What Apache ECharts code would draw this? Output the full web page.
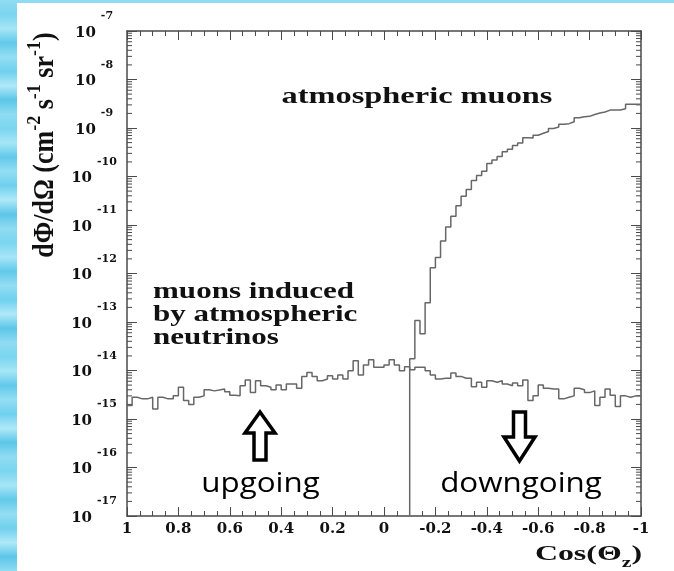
<!DOCTYPE html>
<html>
<head>
<meta charset="utf-8">
<script src="https://cdn.jsdelivr.net/npm/echarts@6/dist/echarts.min.js"></script>
<style>
html,body{margin:0;padding:0;background:#fff;}
#chart{width:674px;height:571px;}
</style>
</head>
<body>
<div id="chart"></div>
<script>
// ---- data ----
// bin layout: 100 bins of width 0.02 in cos(theta_z), from 1 down to -1
const binStart = 1;
const binWidth = 0.02;
const xTickLabels = ['1','0.8','0.6','0.4','0.2','0','-0.2','-0.4','-0.6','-0.8','-1'];
const yDecades = [-17,-16,-15,-14,-13,-12,-11,-10,-9,-8,-7];

// muons induced by atmospheric neutrinos, 100 bins from cos=1 to cos=-1
const neutrinoFlux = [
  1.9e-15, 2.8e-15, 2.6e-15, 2.6e-15, 2.8e-15, 1.6e-15, 2.8e-15, 2.6e-15, 2.6e-15, 3.0e-15,
  4.5e-15, 2.4e-15, 2.0e-15, 2.8e-15, 3.0e-15, 4.0e-15, 3.8e-15, 3.95e-15, 4.15e-15, 3.65e-15,
  3.1e-15, 3.0e-15, 4.85e-15, 6.4e-15, 3.5e-15, 6.15e-15, 4.85e-15, 4.5e-15, 4.0e-15, 5.0e-15,
  4.0e-15, 5.25e-15, 5.25e-15, 4.3e-15, 7.55e-15, 9.1e-15, 7.55e-15, 6.15e-15, 6.7e-15, 7.8e-15,
  6.7e-15, 8.1e-15, 6.7e-15, 9.9e-15, 1.59e-14, 8.1e-15, 1.3e-14, 1.67e-14, 1.16e-14, 1.16e-14,
  1.3e-14, 1.67e-14, 1.3e-14, 9.9e-15, 1.2e-14, 1.04e-14, 1.16e-14, 1.16e-14, 9.9e-15, 8.1e-15,
  6.7e-15, 6.9e-15, 6.9e-15, 8.9e-15, 7.55e-15, 6.9e-15, 6.9e-15, 4.6e-15, 5.7e-15, 4.5e-15,
  6.15e-15, 5.7e-15, 6.15e-15, 5.25e-15, 4.85e-15, 5.5e-15, 4.85e-15, 6.4e-15, 2.4e-15, 3.0e-15,
  5.0e-15, 4.3e-15, 4.15e-15, 4.15e-15, 2.6e-15, 2.8e-15, 3.0e-15, 4.3e-15, 4.0e-15, 3.5e-15,
  3.8e-15, 1.9e-15, 2.8e-15, 4.15e-15, 3.1e-15, 1.8e-15, 3.0e-15, 2.8e-15, 3.0e-15, 3.0e-15
];

// atmospheric muons, 45 bins from cos=-0.1 to cos=-1 (empty above the horizon)
const muonStartCos = -0.1;
const muonFlux = [
  1.74e-14, 1.07e-13, 5.75e-14, 2.5e-13, 1.32e-12, 2.14e-12, 4.68e-12, 9.1e-12, 1.51e-11, 2.5e-11,
  3.9e-11, 5.4e-11, 8.3e-11, 1.05e-10, 1.29e-10, 1.86e-10, 2.19e-10, 2.57e-10, 3.24e-10, 3.63e-10,
  4.37e-10, 4.9e-10, 6.3e-10, 6.2e-10, 7.1e-10, 7.8e-10, 8.5e-10, 9.8e-10, 1.05e-9, 1.2e-9,
  1.23e-9, 1.35e-9, 1.62e-9, 1.7e-9, 1.74e-9, 1.9e-9, 2.04e-9, 2.14e-9, 2.34e-9, 2.34e-9,
  2.34e-9, 2.5e-9, 3.1e-9, 3.1e-9, 3.1e-9
];

// ---- build series data ----
const yMin = Math.pow(10, yDecades[0]);
const yMax = Math.pow(10, yDecades[yDecades.length - 1]);

function histPoints(values, start) {
  const pts = values.map((v, i) => [+(start - binWidth * i).toFixed(4), v]);
  pts.push([+(start - binWidth * values.length).toFixed(4), values[values.length - 1]]);
  return pts;
}
const neutrinoData = histPoints(neutrinoFlux, binStart);
const muonData = [[muonStartCos, yMin]].concat(histPoints(muonFlux, muonStartCos));

const minorTickVals = [];
for (let d = 0; d < yDecades.length - 1; d++) {
  for (let k = 2; k <= 9; k++) minorTickVals.push([binStart, k * Math.pow(10, yDecades[d])]);
}

const AX = '#4a4a4a';
const LINE = '#676767';
const TXT = '#111';
const SERIF = '"Liberation Serif", "Times New Roman", serif';
const TICKFONT = '"DejaVu Serif", serif';

function xFmt(v) {
  const r = Math.round(v * 10) / 10;
  const idx = Math.round((1 - r) / 0.2);
  return xTickLabels[idx] !== undefined ? xTickLabels[idx] : String(r);
}

const xBase = {
  type: 'value', min: -1, max: 1, inverse: true, interval: 0.2,
  axisLine: {show: true, onZero: false, lineStyle: {color: AX, width: 1.5}},
  axisTick: {show: true, inside: true, length: 9, lineStyle: {color: AX, width: 1}},
  minorTick: {show: true, splitNumber: 4, length: 5, lineStyle: {color: AX, width: 1}},
  splitLine: {show: false}, minorSplitLine: {show: false}
};
const yBase = {
  type: 'log', logBase: 10, min: yMin, max: yMax, interval: 1,
  axisLine: {show: true, onZero: false, lineStyle: {color: AX, width: 1.5}},
  axisTick: {show: true, inside: true, length: 10, lineStyle: {color: AX, width: 1}},
  splitLine: {show: false}
};

const blueStops = [];
const blues = ['#8fdcf2','#6fd0ee','#a6e6f7','#5cc6e8','#93def3','#7ad5ef','#b0e9f8','#62c9ea'];
for (let i = 0; i <= 40; i++) blueStops.push({offset: i / 40, color: blues[(i * 5) % blues.length]});

const chart = echarts.init(document.getElementById('chart'), null, {renderer: 'canvas'});
chart.setOption({
  animation: false,
  backgroundColor: '#ffffff',
  grid: {left: 127, right: 33, top: 31, bottom: 55, containLabel: false},
  xAxis: [
    Object.assign({}, xBase, {position: 'bottom',
      axisLabel: {show: true, margin: 6, formatter: xFmt, color: TXT,
        fontFamily: TICKFONT, fontWeight: 'bold', fontSize: 15}}),
    Object.assign({}, xBase, {position: 'top', axisLabel: {show: false}})
  ],
  yAxis: [
    Object.assign({}, yBase, {position: 'left',
      axisLabel: {show: true, margin: 33, align: 'center',
        formatter: v => '{b|10}{e|' + Math.round(Math.log10(v)) + '}',
        rich: {
          b: {fontFamily: TICKFONT, fontWeight: 'bold', fontSize: 15, color: TXT, lineHeight: 40, padding: [4, 0, 0, 0]},
          e: {fontFamily: TICKFONT, fontWeight: 'bold', fontSize: 11, color: TXT, verticalAlign: 'top', padding: [0, 0, 0, 5]}
        }}}),
    Object.assign({}, yBase, {position: 'right', axisLabel: {show: false}})
  ],
  series: [
    {
      type: 'line', name: 'neutrino', step: 'end', symbol: 'none', silent: true,
      xAxisIndex: 0, yAxisIndex: 0, data: neutrinoData,
      lineStyle: {color: LINE, width: 1.5}
    },
    {
      type: 'line', name: 'atmospheric', step: 'end', symbol: 'none', silent: true,
      xAxisIndex: 0, yAxisIndex: 0, data: muonData,
      lineStyle: {color: LINE, width: 1.5}
    },
    {
      type: 'custom', name: 'ytickminor', silent: true, xAxisIndex: 0, yAxisIndex: 0,
      data: minorTickVals, encode: {x: 0, y: 1},
      renderItem: function (params, api) {
        const v = api.value(1);
        const pL = api.coord([1, v]);
        const pR = api.coord([-1, v]);
        return {type: 'group', children: [
          {type: 'line', shape: {x1: pL[0], y1: pL[1], x2: pL[0] + 5, y2: pL[1]}, style: {stroke: AX, lineWidth: 1}},
          {type: 'line', shape: {x1: pR[0], y1: pR[1], x2: pR[0] - 5, y2: pR[1]}, style: {stroke: AX, lineWidth: 1}}
        ]};
      }
    }
  ],
  graphic: [
    {type: 'rect', z: -10, shape: {x: 0, y: 0, width: 17, height: 571},
      style: {fill: {type: 'linear', x: 0, y: 0, x2: 0, y2: 1, colorStops: blueStops}}},
    {type: 'rect', z: -10, shape: {x: 0, y: 0, width: 674, height: 3},
      style: {fill: '#8fdcf2'}},
    {type: 'text', x: 417, y: 97, scaleX: 1.35,
      style: {text: 'atmospheric muons', font: 'bold 24px ' + SERIF, fill: TXT, textAlign: 'center', textVerticalAlign: 'middle'}},
    {type: 'text', x: 153, y: 281, scaleX: 1.35,
      style: {text: 'muons induced\nby atmospheric\nneutrinos', font: 'bold 23px ' + SERIF, lineHeight: 23, fill: TXT, textAlign: 'left', textVerticalAlign: 'top'}},
    {type: 'text', x: 260.5, y: 484, scaleX: 1.12,
      style: {text: 'upgoing', font: '28px "Open Sans", sans-serif', fill: '#000', textAlign: 'center', textVerticalAlign: 'middle'}},
    {type: 'text', x: 521, y: 484, scaleX: 1.12,
      style: {text: 'downgoing', font: '28px "Open Sans", sans-serif', fill: '#000', textAlign: 'center', textVerticalAlign: 'middle'}},
    {type: 'polygon', shape: {points: [[260,412],[245,433],[254,433],[254,460],[266,460],[266,433],[275,433]]},
      style: {fill: '#fff', stroke: '#000', lineWidth: 3.5, lineJoin: 'miter'}},
    {type: 'polygon', shape: {points: [[519.5,461],[504,437],[513.5,437],[513.5,412],[525.5,412],[525.5,437],[535,437]]},
      style: {fill: '#fff', stroke: '#000', lineWidth: 3.5, lineJoin: 'miter'}},
    {type: 'text', x: 46, y: 145, rotation: Math.PI / 2, scaleY: 1.1,
      style: {text: 'd\u03a6/d\u03a9 (cm{s|-2} s{s|-1} sr{s|-1})', font: 'bold 26px ' + SERIF, lineHeight: 38,
        fill: TXT, textAlign: 'center', textVerticalAlign: 'middle',
        rich: {s: {fontFamily: SERIF, fontWeight: 'bold', fontSize: 18, fill: TXT, color: TXT, verticalAlign: 'top'}}}},
    {type: 'text', x: 642, y: 554, scaleX: 1.45,
      style: {text: 'Cos(\u0398{z|z})', font: 'bold 22px ' + SERIF, lineHeight: 34,
        fill: TXT, textAlign: 'right', textVerticalAlign: 'middle',
        rich: {z: {fontFamily: SERIF, fontWeight: 'bold', fontSize: 15, fill: TXT, color: TXT, verticalAlign: 'bottom'}}}}
  ]
});
</script>
</body>
</html>
